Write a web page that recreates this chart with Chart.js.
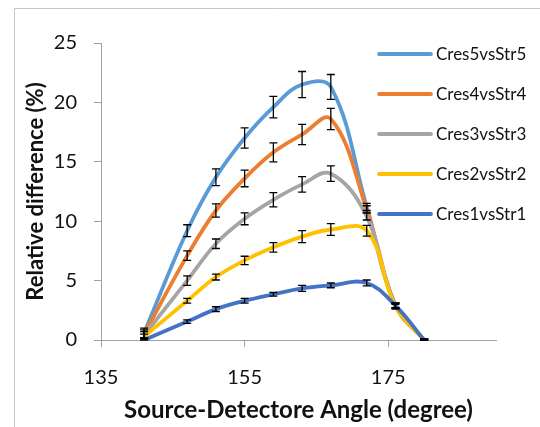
<!DOCTYPE html>
<html>
<head>
<meta charset="utf-8">
<script src="https://cdn.jsdelivr.net/npm/chart.js@4"></script>
<style>
  html, body { margin: 0; padding: 0; background: #fff; }
  #wrap { width: 540px; height: 427px; position: relative; }
</style>
</head>
<body>
<div id="wrap"><canvas id="diffChart"></canvas></div>
<script>
// source-detector angles (degree)
const angles = [141, 147, 151, 155, 159, 163, 167, 172, 176, 180];
const xTicks = [135, 155, 175];

const cres5 = [0.6, 9.2, 13.7, 17.0, 19.6, 21.5, 21.3, 11.2, 2.9, 0];
const cres4 = [0.5, 7.1, 10.9, 13.6, 15.8, 17.3, 18.6, 11.0, 2.9, 0];
const cres3 = [0.4, 5.0, 8.1, 10.2, 11.8, 13.1, 14.0, 10.4, 2.9, 0];
const cres2 = [0.3, 3.3, 5.3, 6.7, 7.8, 8.7, 9.3, 9.2, 2.8, 0];
const cres1 = [0.0, 1.55, 2.6, 3.3, 3.85, 4.35, 4.6, 4.8, 2.9, 0];

// +/- error
const err5 = [0.4, 0.5, 0.7, 0.85, 0.9, 1.1, 1.05, 0.3, 0.2, 0.1];
const err4 = [0.35, 0.4, 0.55, 0.7, 0.8, 0.85, 0.9, 0.3, 0.2, 0.1];
const err3 = [0.3, 0.4, 0.4, 0.5, 0.6, 0.65, 0.65, 0.3, 0.2, 0.1];
const err2 = [0.2, 0.2, 0.25, 0.35, 0.4, 0.5, 0.5, 0.45, 0.2, 0.1];
const err1 = [0.15, 0.15, 0.2, 0.2, 0.15, 0.25, 0.2, 0.25, 0.2, 0.1];

const names = ["Cres5vsStr5", "Cres4vsStr4", "Cres3vsStr3", "Cres2vsStr2", "Cres1vsStr1"];
const colors = ["#5B9BD5", "#ED7D31", "#A5A5A5", "#FFC000", "#4472C4"];
const values = [cres5, cres4, cres3, cres2, cres1];
const errors = [err5, err4, err3, err2, err1];

const FONT = "Lato, 'Open Sans', sans-serif";
const TEXT = "#111";
const AXIS = "#a0a0a0";

const datasets = names.map((name, i) => ({
    label: name,
    data: angles.map((a, j) => ({ x: a, y: values[i][j] })),
    errs: errors[i],
    borderColor: colors[i],
    backgroundColor: colors[i],
    borderWidth: 3.8,
    pointRadius: 0,
    tension: 0.4,
    order: names.length - i,
    fill: false,
}));

const frame = {
    id: "frame",
    beforeDraw(chart) {
        const c = chart.ctx;
        c.save();
        c.strokeStyle = "#c6c6c6";
        c.lineWidth = 1;
        c.beginPath();
        c.moveTo(14.5, 427);
        c.lineTo(14.5, 8.5);
        c.lineTo(540, 8.5);
        c.stroke();
        c.restore();
    },
};

const errorBars = {
    id: "errorBars",
    afterDatasetsDraw(chart) {
        const c = chart.ctx;
        const xs = chart.scales.x, ys = chart.scales.y;
        c.save();
        c.strokeStyle = "#000";
        c.lineWidth = 1.3;
        chart.data.datasets.forEach((ds) => {
            ds.data.forEach((p, j) => {
                const e = ds.errs[j];
                const px = xs.getPixelForValue(p.x);
                const top = ys.getPixelForValue(p.y + e);
                const bot = ys.getPixelForValue(Math.max(0, p.y - e));
                c.beginPath();
                c.moveTo(px, top); c.lineTo(px, bot);
                c.moveTo(px - 4, top); c.lineTo(px + 4, top);
                c.moveTo(px - 4, bot); c.lineTo(px + 4, bot);
                c.stroke();
            });
        });
        c.restore();
    },
};

const sideLegend = {
    id: "sideLegend",
    afterDraw(chart) {
        const c = chart.ctx;
        c.save();
        c.font = "17px " + FONT;
        c.textBaseline = "middle";
        c.fillStyle = TEXT;
        names.forEach((name, i) => {
            const y = 54 + i * 40;
            c.strokeStyle = colors[i];
            c.lineWidth = 3.8;
            c.lineCap = "round";
            c.beginPath();
            c.moveTo(379, y); c.lineTo(431, y);
            c.stroke();
            c.fillText(name, 436, y + 1);
        });
        c.restore();
    },
};

new Chart(document.getElementById("diffChart"), {
    type: "line",
    data: { datasets: datasets },
    options: {
        responsive: true,
        maintainAspectRatio: false,
        animation: false,
        layout: { padding: { left: 16, top: 43, right: 44, bottom: 0 } },
        plugins: { legend: { display: false }, tooltip: { enabled: false } },
        scales: {
            x: {
                type: "linear",
                min: 135,
                max: 190,
                afterBuildTicks: (s) => { s.ticks = xTicks.map((v) => ({ value: v })); },
                afterFit: (s) => { s.height = 87; },
                grid: { drawOnChartArea: false, drawTicks: true, tickLength: 7, color: AXIS },
                border: { display: true, color: AXIS },
                ticks: { font: { family: FONT, size: 20 }, color: TEXT, padding: 19, maxRotation: 0 },
                title: {
                    display: true,
                    text: "Source-Detectore Angle (degree)",
                    font: { family: FONT, size: 24, weight: "bold" },
                    color: TEXT,
                    padding: { top: 0, bottom: 2 },
                },
            },
            y: {
                min: 0,
                max: 25,
                afterFit: (s) => { s.width = 85; },
                grid: { drawOnChartArea: false, drawTicks: true, tickLength: 7, color: AXIS },
                border: { display: true, color: AXIS },
                ticks: { stepSize: 5, font: { family: FONT, size: 20 }, color: TEXT, padding: 17 },
                title: {
                    display: true,
                    text: "Relative difference (%)",
                    font: { family: FONT, size: 22, weight: "bold" },
                    color: TEXT,
                    padding: { top: 7, bottom: 0 },
                },
            },
        },
    },
    plugins: [frame, errorBars, sideLegend],
});
</script>
</body>
</html>
